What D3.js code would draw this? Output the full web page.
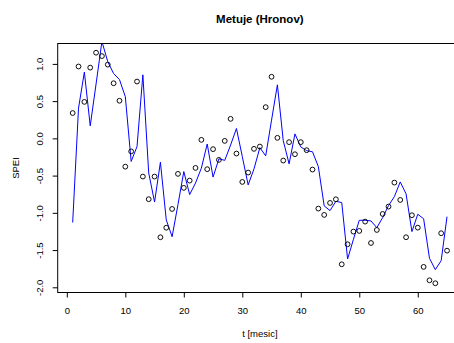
<!DOCTYPE html>
<html>
<head>
<meta charset="utf-8">
<script src="https://cdn.jsdelivr.net/npm/d3@7"></script>
<style>
  body { margin: 0; background: #fff; }
  svg text { font-family: "Liberation Sans", Arial, Helvetica, sans-serif; fill: #000; }
</style>
</head>
<body>
<svg id="chart" width="454" height="343"></svg>
<script>
// Observed SPEI per month (open circles)
const observed = [
  0.34, 0.965, 0.49, 0.95, 1.15, 1.105, 0.99, 0.74, 0.505, -0.38,
  -0.175, 0.763, -0.513, -0.817, -0.513, -1.328, -1.20, -0.948, -0.477, -0.665,
  -0.567, -0.397, -0.02, -0.414, -0.145, -0.289, -0.034, 0.262, -0.204, -0.585,
  -0.459, -0.141, -0.11, 0.419, 0.827, 0.007, -0.298, -0.051, -0.213, -0.051,
  -0.159, -0.419, -0.943, -1.028, -0.867, -0.818, -1.691, -1.422, -1.252, -1.243,
  -1.118, -1.405, -1.23, -1.015, -0.916, -0.594, -0.827, -1.328, -1.032, -1.199,
  -1.726, -1.906, -1.946, -1.274, -1.508
];
// Modelled SPEI per month (blue line)
const modelled = [
  -1.13, 0.405, 0.89, 0.168, 0.73, 1.30, 1.03, 0.87, 0.79, 0.56,
  -0.31, -0.11, 0.853, -0.465, -0.855, -0.32, -1.095, -1.32, -0.89, -0.446,
  -0.755, -0.60, -0.40, -0.076, -0.52, -0.275, -0.295, -0.09, 0.133, -0.245,
  -0.625, -0.41, -0.125, -0.235, 0.245, 0.719, -0.03, -0.343, 0.06, -0.115,
  -0.165, -0.18, -0.379, -0.907, -0.97, -0.845, -0.862, -1.62, -1.355, -1.10,
  -1.10, -1.109, -1.199, -1.064, -0.903, -0.782, -0.585, -0.746, -1.252, -1.019,
  -1.08, -1.61, -1.763, -1.642, -1.051
];
const xTicks = [0, 10, 20, 30, 40, 50, 60];
const xTickLabels = ["0", "10", "20", "30", "40", "50", "60"];
const yTicks = [-2.0, -1.5, -1.0, -0.5, 0.0, 0.5, 1.0];
const yTickLabels = ["-2.0", "-1.5", "-1.0", "-0.5", "0.0", "0.5", "1.0"];

const titleText = "Metuje (Hronov)";
const xTitle = "t [mesic]";
const yTitle = "SPEI";

const months = observed.map((_, i) => i + 1);

// plot region (right edge runs past the canvas)
const plot = { left: 57.7, right: 462, top: 43.5, bottom: 292.5 };

// axis ranges padded by 4% like base graphics
function padded(ext) {
  const p = (ext[1] - ext[0]) * 0.04;
  return [ext[0] - p, ext[1] + p];
}
const x = d3.scaleLinear().domain(padded(d3.extent(months))).range([plot.left, plot.right]);
const y = d3.scaleLinear().domain(padded(d3.extent(observed))).range([plot.bottom, plot.top]);

const svg = d3.select("#chart");

svg.append("defs").append("clipPath").attr("id", "plotclip")
  .append("rect")
  .attr("x", plot.left).attr("y", plot.top)
  .attr("width", plot.right - plot.left).attr("height", plot.bottom - plot.top);

// modelled series
const line = d3.line().x((d, i) => x(months[i])).y(d => y(d));
svg.append("path")
  .datum(modelled)
  .attr("clip-path", "url(#plotclip)")
  .attr("d", line)
  .attr("fill", "none")
  .attr("stroke", "#0000ff")
  .attr("stroke-width", 1)
  .attr("stroke-linejoin", "round");

// observed points
svg.append("g").attr("clip-path", "url(#plotclip)")
  .selectAll("circle")
  .data(observed)
  .join("circle")
  .attr("cx", (d, i) => x(months[i]))
  .attr("cy", d => y(d))
  .attr("r", 2.4)
  .attr("fill", "none")
  .attr("stroke", "#000")
  .attr("stroke-width", 0.95);

// box around the plot region
svg.append("rect")
  .attr("x", plot.left).attr("y", plot.top)
  .attr("width", plot.right - plot.left).attr("height", plot.bottom - plot.top)
  .attr("fill", "none").attr("stroke", "#000").attr("stroke-width", 1);

// x axis
const xAxis = svg.append("g")
  .attr("transform", `translate(0,${plot.bottom})`)
  .call(d3.axisBottom(x).tickValues(xTicks).tickSize(5)
    .tickFormat((d, i) => xTickLabels[i]));
xAxis.select(".domain").remove();
xAxis.selectAll("line").attr("stroke", "#000");
xAxis.selectAll("text")
  .attr("y", 18.6).attr("dy", "0.35em")
  .attr("font-size", 9.5).attr("font-family", null).attr("fill", "#000");

// y axis with labels turned parallel to the axis
const yAxis = svg.append("g")
  .attr("transform", `translate(${plot.left},0)`)
  .call(d3.axisLeft(y).tickValues(yTicks).tickSize(5)
    .tickFormat((d, i) => yTickLabels[i]));
yAxis.select(".domain").remove();
yAxis.selectAll("line").attr("stroke", "#000");
yAxis.selectAll("text")
  .attr("x", null).attr("dy", "0.35em")
  .attr("transform", "translate(-17.7,0) rotate(-90)")
  .attr("text-anchor", "middle")
  .attr("font-size", 9.5).attr("font-family", null).attr("fill", "#000");

// titles
const midX = (plot.left + plot.right) / 2;
svg.append("text")
  .attr("x", midX).attr("y", 23)
  .attr("text-anchor", "middle")
  .attr("font-size", 11.5).attr("font-weight", "bold")
  .text(titleText);

svg.append("text")
  .attr("x", midX).attr("y", 334).attr("dy", "0.35em")
  .attr("text-anchor", "middle")
  .attr("font-size", 9.5)
  .text(xTitle);

svg.append("text")
  .attr("transform", `translate(15.7,${(plot.top + plot.bottom) / 2}) rotate(-90)`)
  .attr("dy", "0.35em")
  .attr("text-anchor", "middle")
  .attr("font-size", 9.5)
  .text(yTitle);
</script>
</body>
</html>
